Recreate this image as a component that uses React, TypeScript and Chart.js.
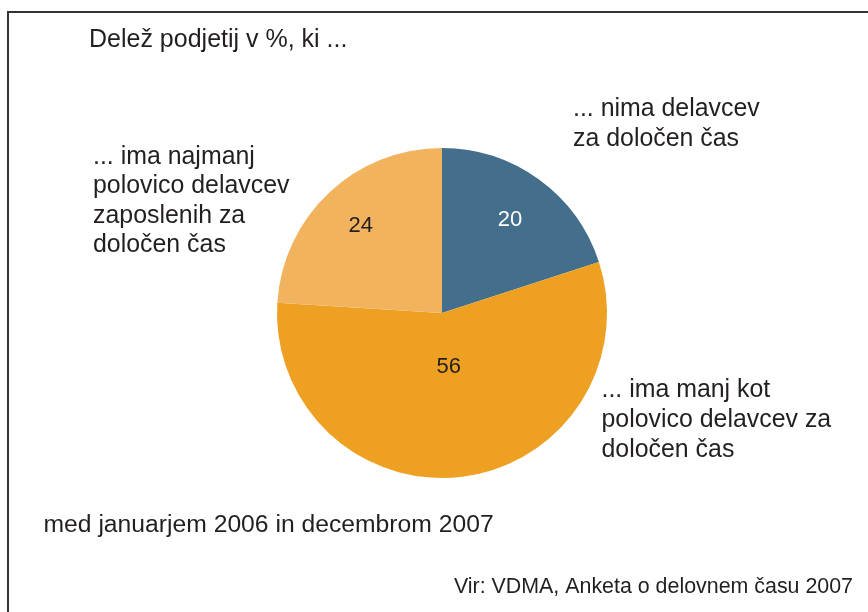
import React, { useEffect, useRef } from "react";
import { Chart, registerables } from "chart.js";

Chart.register(...registerables);

const categories = [
  "... nima delavcev za določen čas",
  "... ima manj kot polovico delavcev za določen čas",
  "... ima najmanj polovico delavcev zaposlenih za določen čas",
];
const values = [20, 56, 24];
const sliceColors = ["#436E8C", "#EEA023", "#F2B35E"];
const valueLabelColors = ["#FFFFFF", "#231F20", "#231F20"];

const titleText = "Delež podjetij v %, ki ...";
const labelLinesTopRight = ["... nima delavcev", "za določen čas"];
const labelLinesBottomRight = ["... ima manj kot", "polovico delavcev za", "določen čas"];
const labelLinesLeft = ["... ima najmanj", "polovico delavcev", "zaposlenih za", "določen čas"];
const periodText = "med januarjem 2006 in decembrom 2007";
const sourceText = "Vir: VDMA, Anketa o delovnem času 2007";

const FONT = "'Liberation Sans', Arial, Helvetica, sans-serif";
const TEXT_COLOR = "#231F20";

const overlayPlugin = {
  id: "overlayText",
  afterDraw(chart: any) {
    const ctx = chart.ctx as CanvasRenderingContext2D;
    ctx.save();
    // frame
    ctx.strokeStyle = "#333333";
    ctx.lineWidth = 2;
    ctx.beginPath();
    ctx.moveTo(8, 612);
    ctx.lineTo(8, 12);
    ctx.lineTo(868, 12);
    ctx.stroke();

    ctx.fillStyle = TEXT_COLOR;
    ctx.textBaseline = "alphabetic";
    ctx.textAlign = "left";
    ctx.font = `25px ${FONT}`;
    ctx.fillText(titleText, 89, 47);

    ctx.font = `24.9px ${FONT}`;
    const drawLines = (lines: string[], x: number, y0: number, lh: number) => {
      lines.forEach((l, i) => ctx.fillText(l, x, y0 + i * lh));
    };
    drawLines(labelLinesTopRight, 573, 116, 29.5);
    drawLines(labelLinesLeft, 93, 164, 29.4);
    drawLines(labelLinesBottomRight, 601.5, 397, 30);
    ctx.font = `24.7px ${FONT}`;
    ctx.fillText(periodText, 43.5, 531.5);

    ctx.font = `21.4px ${FONT}`;
    ctx.textAlign = "right";
    ctx.fillText(sourceText, 853, 593);

    // value labels
    const meta = chart.getDatasetMeta(0);
    const factors = [0.7, 0.33, 0.72];
    ctx.font = `22px ${FONT}`;
    ctx.textAlign = "center";
    ctx.textBaseline = "middle";
    meta.data.forEach((arc: any, i: number) => {
      const { x, y, startAngle, endAngle, outerRadius } = arc.getProps(
        ["x", "y", "startAngle", "endAngle", "outerRadius"],
        true
      );
      const mid = (startAngle + endAngle) / 2;
      const r = outerRadius * factors[i];
      ctx.fillStyle = valueLabelColors[i];
      ctx.fillText(String(values[i]), x + Math.cos(mid) * r, y + Math.sin(mid) * r);
    });
    ctx.restore();
  },
};

export default function App() {
  const ref = useRef<HTMLCanvasElement>(null);
  useEffect(() => {
    if (!ref.current) return;
    const chart = new Chart(ref.current, {
      type: "pie",
      data: {
        labels: categories,
        datasets: [
          {
            data: values,
            backgroundColor: sliceColors,
            borderWidth: 0,
          },
        ],
      },
      options: {
        animation: false,
        responsive: false,
        devicePixelRatio: 1,
        layout: { padding: { left: 277, right: 261, top: 148, bottom: 134 } },
        plugins: {
          legend: { display: false },
          tooltip: { enabled: false },
          title: { display: false },
        },
      },
      plugins: [overlayPlugin],
    });
    return () => chart.destroy();
  }, []);
  return (
    <div style={{ position: "fixed", left: 0, top: 0, width: 868, height: 612, background: "#fff" }}>
      <canvas ref={ref} width={868} height={612} style={{ width: 868, height: 612 }} />
    </div>
  );
}
